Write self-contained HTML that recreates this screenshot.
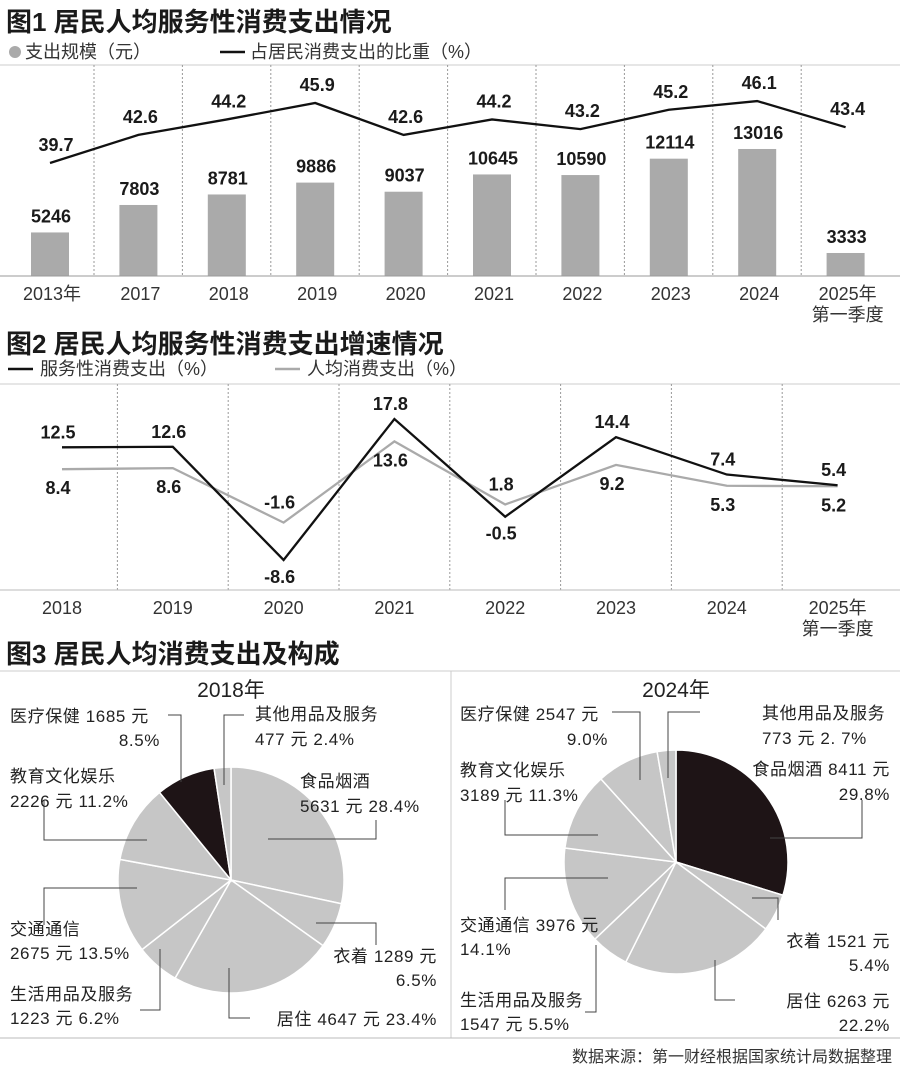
<!DOCTYPE html>
<html><head><meta charset="utf-8">
<style>
body{margin:0;background:#fff;}
svg{display:block;font-family:"Liberation Sans","Noto Sans CJK SC",sans-serif;}
.t{font-size:26px;font-weight:bold;fill:#1a1a1a}
.lg{font-size:18px;fill:#333}
.v{font-size:18px;font-weight:bold;fill:#1a1a1a}
.ax{font-size:18px;fill:#333}
.pl{font-size:17px;fill:#222;letter-spacing:0.6px}
</style></head><body>
<svg id="s" width="900" height="1076" viewBox="0 0 900 1076">
<text class="t" x="6" y="31">图1 居民人均服务性消费支出情况</text>
<circle cx="15" cy="52" r="6" fill="#aaa"/>
<text class="lg" x="25" y="58">支出规模（元）</text>
<line x1="220" y1="52" x2="245" y2="52" stroke="#111" stroke-width="2.5"/>
<text class="lg" x="250" y="58">占居民消费支出的比重（%）</text>
<line x1="0" y1="65" x2="900" y2="65" stroke="#ccc"/>
<g id="c1"></g>
<text class="t" x="6" y="353">图2 居民人均服务性消费支出增速情况</text>
<line x1="8" y1="369" x2="33" y2="369" stroke="#111" stroke-width="2.5"/>
<text class="lg" x="40" y="375">服务性消费支出（%）</text>
<line x1="275" y1="369" x2="300" y2="369" stroke="#aaa" stroke-width="2.5"/>
<text class="lg" x="307" y="375">人均消费支出（%）</text>
<line x1="0" y1="384" x2="900" y2="384" stroke="#ccc"/>
<g id="c2"></g>
<text class="t" x="6" y="663">图3 居民人均消费支出及构成</text>
<line x1="0" y1="671" x2="900" y2="671" stroke="#ccc"/>
<line x1="451" y1="671" x2="451" y2="1038" stroke="#ccc"/>
<line x1="0" y1="1038" x2="900" y2="1038" stroke="#bbb"/>
<g id="c3"></g>
<text x="892" y="1062" text-anchor="end" style="font-size:16px;fill:#333">数据来源：第一财经根据国家统计局数据整理</text>
</svg>
<script>
const NS='http://www.w3.org/2000/svg';
function mk(p,tag,attrs,txt){const e=document.createElementNS(NS,tag);for(const k in attrs)e.setAttribute(k,attrs[k]);if(txt!==undefined)e.textContent=txt;p.appendChild(e);return e;}
// ---- chart 1 data
const years1=['2013年','2017','2018','2019','2020','2021','2022','2023','2024','2025年'];
const spend=[5246,7803,8781,9886,9037,10645,10590,12114,13016,3333];
const share=[39.7,42.6,44.2,45.9,42.6,44.2,43.2,45.2,46.1,43.4];
// ---- chart 2 data
const years2=['2018','2019','2020','2021','2022','2023','2024','2025年'];
const serviceGrowth=[12.5,12.6,-8.6,17.8,-0.5,14.4,7.4,5.4];
const totalGrowth=[8.4,8.6,-1.6,13.6,1.8,9.2,5.3,5.2];
// ---- chart 3 data
const pieCats=['食品烟酒','衣着','居住','生活用品及服务','交通通信','教育文化娱乐','医疗保健','其他用品及服务'];
const pie2018=[28.4,6.5,23.4,6.2,13.5,11.2,8.5,2.4];
const pie2024=[29.8,5.4,22.2,5.5,14.1,11.3,9.0,2.7];

// chart 1
const c1=document.getElementById('c1');
const x1=i=>50+i*88.4;
const yb=v=>276-(v-1190)*0.01074;
const yl=v=>163-(v-39.7)*9.68;
for(let i=0;i<years1.length-1;i++){
 const s=mk(c1,'line',{x1:x1(i)+44,y1:65,x2:x1(i)+44,y2:276,stroke:'#999','stroke-dasharray':'2,2'});
 
 
}
spend.forEach((v,i)=>{
 const r=mk(c1,'rect',{x:x1(i)-19,y:yb(v),width:38,height:276-yb(v),fill:'#aaa'});
 
 
 const t=mk(c1,'text',{x:x1(i)+1,y:yb(v)-10,'text-anchor':'middle',class:'v'},v);
 
 
 const a=mk(c1,'text',{x:x1(i)+2,y:300,'text-anchor':'middle',class:'ax'},years1[i]);
 
 
});
const q=mk(c1,'text',{x:x1(9)+2,y:321,'text-anchor':'middle',class:'ax'},'第一季度');


const ax1=mk(c1,'line',{x1:0,y1:276,x2:900,y2:276,stroke:'#999'});


const pl1=mk(c1,'polyline',{points:share.map((v,i)=>x1(i)+','+yl(v)).join(' '),fill:'none',stroke:'#111','stroke-width':2.3});


share.forEach((v,i)=>{
 const t=mk(c1,'text',{x:x1(i)+(i==0?6:2),y:yl(v)-12,'text-anchor':'middle',class:'v'},v.toFixed(1));
 
 
});
// chart 2
const c2=document.getElementById('c2');
const x2=i=>62+i*110.8;
const y2=v=>419+(17.8-v)*5.34;
for(let i=0;i<years2.length-1;i++){
 const s=mk(c2,'line',{x1:x2(i)+55.4,y1:384,x2:x2(i)+55.4,y2:590,stroke:'#999','stroke-dasharray':'2,2'});
 
 
}
const ax2=mk(c2,'line',{x1:0,y1:590,x2:900,y2:590,stroke:'#bbb'});


years2.forEach((y,i)=>{
 const a=mk(c2,'text',{x:x2(i),y:614,'text-anchor':'middle',class:'ax'},y);
 
 
});
const q2=mk(c2,'text',{x:x2(7),y:635,'text-anchor':'middle',class:'ax'},'第一季度');


const lg=mk(c2,'polyline',{points:totalGrowth.map((v,i)=>x2(i)+','+y2(v)).join(' '),fill:'none',stroke:'#aaa','stroke-width':2.3});


const lb=mk(c2,'polyline',{points:serviceGrowth.map((v,i)=>x2(i)+','+y2(v)).join(' '),fill:'none',stroke:'#111','stroke-width':2.3});


serviceGrowth.forEach((v,i)=>{
 const g=totalGrowth[i];
 const bHigh=v>=g;
 const tb=mk(c2,'text',{x:x2(i)-4,y:bHigh?y2(v)-9:y2(v)+23,'text-anchor':'middle',class:'v'},v.toFixed(1));
 
 
 const tg=mk(c2,'text',{x:x2(i)-4,y:bHigh?y2(g)+25:y2(g)-14,'text-anchor':'middle',class:'v'},g.toFixed(1));
 
 
});
// chart 3
const c3=document.getElementById('c3');
function pie(cx,cy,r,vals,blackIdx,name){
 const tot=vals.reduce((a,b)=>a+b,0);let a0=0;
 vals.forEach((v,i)=>{
  const a1=a0+v/tot*2*Math.PI;
  const p=(a)=>(cx+r*Math.sin(a)).toFixed(2)+','+(cy-r*Math.cos(a)).toFixed(2);
  const d='M'+cx+','+cy+' L'+p(a0)+' A'+r+','+r+' 0 '+((a1-a0)>Math.PI?1:0)+' 1 '+p(a1)+' Z';
  const s=mk(c3,'path',{d:d,fill:i==blackIdx?'#1e1416':'#c6c6c6',stroke:'#fff','stroke-width':1.5});
  
  
  a0=a1;
 });
}
pie(231,880,113,pie2018,6,'pie2018');
pie(676,862,112,pie2024,0,'pie2024');
const leaders=[
 '168,715 181,715 181,782','244,715 224,715 224,785','268,839 376,839 376,820','147,840 44,840 44,800',
 '137,888 44,888 44,925','160,949 160,1010 140,1010','316,923 376,923 376,945','229,968 229,1018 250,1018',
 '612,712 640,712 640,780','700,712 668,712 668,778','770,838 862,838 862,800','598,835 505,835 505,800',
 '608,878 505,878 505,910','596,945 596,1012 585,1012','752,898 778,898 778,920','715,960 715,1000 735,1000'];
leaders.forEach(pts=>{
 const l=mk(c3,'polyline',{points:pts,fill:'none',stroke:'#444','stroke-width':1});
 
 
});
const labels=[
 [231,697,'middle','2018年',21],[676,697,'middle','2024年',21],
 [10,722,'start','医疗保健  1685 元'],[160,746,'end','8.5%'],
 [255,720,'start','其他用品及服务'],[255,745,'start','477 元    2.4%'],
 [300,787,'start','食品烟酒'],[300,812,'start','5631 元  28.4%'],
 [10,782,'start','教育文化娱乐'],[10,807,'start','2226 元  11.2%'],
 [10,935,'start','交通通信'],[10,959,'start','2675 元  13.5%'],
 [10,1000,'start','生活用品及服务'],[10,1024,'start','1223 元  6.2%'],
 [437,962,'end','衣着 1289 元'],[437,986,'end','6.5%'],
 [437,1025,'end','居住  4647 元   23.4%'],
 [460,720,'start','医疗保健  2547 元'],[608,745,'end','9.0%'],
 [762,719,'start','其他用品及服务'],[762,744,'start','773 元  2. 7%'],
 [890,775,'end','食品烟酒 8411 元'],[890,800,'end','29.8%'],
 [460,776,'start','教育文化娱乐'],[460,801,'start','3189 元  11.3%'],
 [460,931,'start','交通通信  3976 元'],[460,955,'start','14.1%'],
 [460,1006,'start','生活用品及服务'],[460,1030,'start','1547 元  5.5%'],
 [890,947,'end','衣着 1521 元'],[890,971,'end','5.4%'],
 [890,1007,'end','居住  6263 元'],[890,1031,'end','22.2%']];
labels.forEach(l=>{
 const t=mk(c3,'text',{x:l[0],y:l[1],'text-anchor':l[2],class:'pl'},l[3]);
 if(l[4])t.setAttribute('style','font-size:21px;letter-spacing:0');
 
 
});
</script>
</body></html>
